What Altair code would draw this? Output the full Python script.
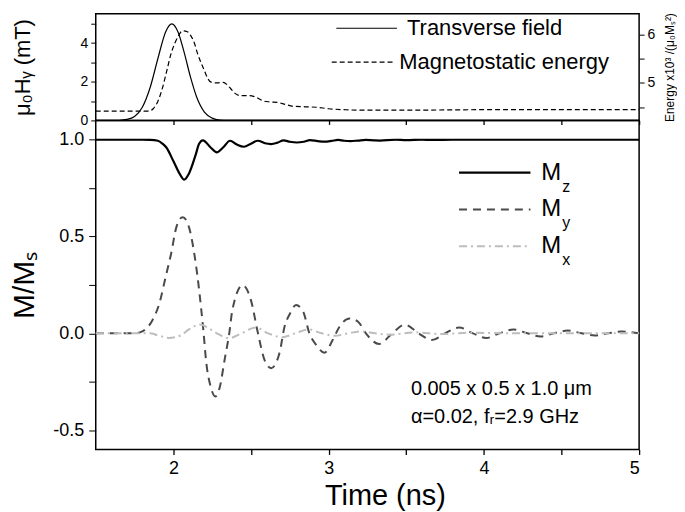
import altair as alt
import pandas as pd

FONT = "Liberation Sans"

# ---------------- data ----------------
field_t = [1.5, 1.65, 1.7, 1.75, 1.8, 1.85, 1.9, 1.95, 1.99, 2.03, 2.07, 2.11, 2.15, 2.2, 2.25, 2.3, 2.35, 2.5, 5.0]
field_h = [0.0, 0.01, 0.05, 0.2, 0.68, 1.69, 3.19, 4.58, 5.0, 4.58, 3.51, 2.25, 1.21, 0.43, 0.12, 0.02, 0.0, 0.0, 0.0]

energy_t = [1.5, 1.84, 1.87, 1.9, 1.93, 1.96, 1.985, 2.01, 2.03, 2.06, 2.09, 2.11, 2.135, 2.156, 2.18, 2.2, 2.22,
            2.24, 2.28, 2.32, 2.35, 2.37, 2.40, 2.43, 2.49, 2.53, 2.58, 2.62, 2.67, 2.72, 2.77, 2.85, 2.92, 3.0,
            3.1, 3.2, 3.5, 4.0, 5.0]
energy_e = [4.42, 4.42, 4.47, 4.62, 4.90, 5.28, 5.6, 5.82, 5.95, 6.07, 6.05, 5.98, 5.82, 5.6, 5.4, 5.25, 5.1,
            5.02, 5.0, 5.01, 4.95, 4.88, 4.78, 4.74, 4.74, 4.71, 4.63, 4.61, 4.60, 4.56, 4.52, 4.51, 4.50, 4.47,
            4.45, 4.44, 4.44, 4.45, 4.45]

mz_t = [1.5, 1.8, 1.85, 1.9, 1.93, 1.955, 2.0, 2.04, 2.07, 2.10, 2.145, 2.165, 2.19, 2.24, 2.28, 2.32, 2.365,
        2.41, 2.455, 2.5, 2.545, 2.59, 2.63, 2.67, 2.71, 2.75, 2.795, 2.84, 2.88, 2.93, 2.975, 3.02, 3.06, 3.1,
        3.14, 3.19, 3.24, 3.29, 3.33, 3.43, 3.5, 3.6, 3.67, 3.8, 5.0]
mz_v = [1.0, 1.0, 0.999, 0.995, 0.98, 0.96, 0.89, 0.825, 0.794, 0.825, 0.926, 0.978, 0.997, 0.96, 0.935, 0.96,
        0.995, 0.975, 0.964, 0.98, 0.995, 0.982, 0.978, 0.985, 0.997, 0.99, 0.986, 0.99, 0.998, 0.993, 0.99,
        0.994, 0.999, 0.995, 0.993, 0.996, 0.999, 0.997, 0.996, 1.0, 0.998, 1.0, 0.999, 1.0, 1.0]

my_t = [1.5, 1.75, 1.8, 1.866, 1.91, 1.95, 1.985, 2.02, 2.06, 2.10, 2.135, 2.156, 2.18, 2.195, 2.21, 2.24, 2.27,
        2.30, 2.33, 2.36, 2.38, 2.446, 2.50, 2.545, 2.587, 2.63, 2.684, 2.716, 2.75, 2.79, 2.837, 2.876, 2.92,
        2.973, 3.026, 3.07, 3.135, 3.19, 3.24, 3.325, 3.41, 3.49, 3.58, 3.665, 3.75, 3.84, 3.93, 4.015, 4.10,
        4.19, 4.28, 4.365, 4.45, 4.54, 4.63, 4.715, 4.80, 4.89, 5.0]
my_v = [0.0, 0.0, 0.01, 0.069, 0.155, 0.29, 0.41, 0.55, 0.60, 0.55, 0.41, 0.29, 0.12, 0.0, -0.137, -0.275, -0.326,
        -0.275, -0.137, 0.0, 0.12, 0.249, 0.17, 0.0, -0.137, -0.18, -0.10, 0.034, 0.10, 0.146, 0.11, 0.0, -0.06,
        -0.10, -0.035, 0.034, 0.077, 0.06, 0.0, -0.055, 0.0, 0.045, 0.0, -0.035, 0.0, 0.03, 0.0, -0.024, 0.0,
        0.02, 0.0, -0.016, 0.0, 0.014, 0.0, -0.011, 0.0, 0.009, 0.0]

mx_t = [1.5, 1.85, 1.9, 1.97, 2.05, 2.1, 2.17, 2.23, 2.28, 2.36, 2.44, 2.53, 2.61, 2.70, 2.785, 2.87, 2.955,
        3.04, 3.125, 3.21, 3.3, 3.39, 3.56, 3.73, 3.9, 4.2, 5.0]
mx_v = [0.0, 0.0, -0.01, -0.024, -0.01, 0.02, 0.045, 0.025, 0.0, -0.025, 0.0, 0.03, 0.0, -0.02, 0.0, 0.02, 0.0,
        -0.013, 0.0, 0.01, 0.0, -0.007, 0.005, -0.004, 0.003, 0.0, 0.0]

top_legend_labels = ["Transverse field", "Magnetostatic energy"]
top_legend_y = [4.77, 3.02]
bottom_legend_labels = ["z", "y", "x"]
bottom_legend_y = [0.83, 0.64, 0.45]
note_lines = ["0.005 x 0.5 x 1.0 \u03bcm", "\u03b1=0.02, f\u1d63=2.9 GHz"]
note_y = [-0.287, -0.433]

X_DOMAIN = [1.5, 5.0]
W = 545
H_TOP = 107
H_BOT = 330

# ---------------- frames ----------------
field_df = pd.DataFrame({"t": field_t, "h": field_h})
energy_df = pd.DataFrame({"t": energy_t, "e": energy_e})
mz_df = pd.DataFrame({"t": mz_t, "v": mz_v})
my_df = pd.DataFrame({"t": my_t, "v": my_v})
mx_df = pd.DataFrame({"t": mx_t, "v": mx_v})

xscale = alt.Scale(domain=X_DOMAIN, nice=False, zero=False)
xticks = [2, 2.5, 3, 3.5, 4, 4.5, 5]

axis_common = dict(domain=False, grid=False, tickColor="black", labelColor="black", titleColor="black",
                   labelFont=FONT, titleFont=FONT, titleFontWeight="normal")

x_top_axis = alt.Axis(values=xticks, labels=False, title=None, tickSize=4, tickWidth=1.3, **axis_common)
x_bot_axis = alt.Axis(values=xticks, title="Time (ns)", tickSize=5, tickWidth=1.3, labelFontSize=18,
                      labelExpr="datum.value % 1 == 0 ? format(datum.value, 'd') : ''",
                      titleFontSize=29, titleX=290, titleY=55, titleBaseline="alphabetic",
                      labelPadding=5, **axis_common)


def xt(field="t"):
    return alt.X(f"{field}:Q", scale=xscale, axis=x_top_axis)


def xb(field="t"):
    return alt.X(f"{field}:Q", scale=xscale, axis=x_bot_axis)


# top-left scale
hscale = alt.Scale(domain=[0, 5.52], nice=False, zero=False)
h_axis = alt.Axis(values=[0, 1, 2, 3, 4, 5], title="\u03bc\u2080H\u1d67 (mT)", tickSize=5, labelFontSize=14,
                  labelExpr="datum.value % 2 == 0 ? format(datum.value, 'd') : ''",
                  titleFontSize=22, titlePadding=46, labelPadding=3, **axis_common)


def yh(field):
    return alt.Y(f"{field}:Q", scale=hscale, axis=h_axis)


escale = alt.Scale(domain=[4.23, 6.42], nice=False, zero=False)
e_axis = alt.Axis(values=[4.5, 5, 5.5, 6], orient="right", title="Energy x10\u00b3 /(\u03bc\u2080M\u209b\u00b2)",
                  tickSize=5, labelFontSize=14, titleAngle=270, titleBaseline="top",
                  labelExpr="datum.value % 1 == 0 ? format(datum.value, 'd') : ''",
                  titleFontSize=12, titlePadding=10, labelPadding=3, **axis_common)

vscale = alt.Scale(domain=[-0.6, 1.1], nice=False, zero=False)
v_axis = alt.Axis(values=[-0.5, -0.25, 0, 0.25, 0.5, 0.75, 1.0], title="M/M\u209b", tickSize=7,
                  labelFontSize=18,
                  labelExpr="(datum.value * 2) % 1 == 0 ? (datum.value < 0 ? '-' + format(-datum.value, '.1f') : format(datum.value, '.1f')) : ''",
                  titleFontSize=30, titlePadding=13.5, labelPadding=5, **axis_common)


def yv(field):
    return alt.Y(f"{field}:Q", scale=vscale, axis=v_axis)


# ---------------- top panel ----------------
field_line = alt.Chart(field_df).mark_line(color="black", strokeWidth=1.2, interpolate="monotone").encode(
    x=xt(), y=yh("h"))

top_leg_lines = pd.DataFrame({"x1": [3.05, 3.02], "x2": [3.44, 3.43], "y": top_legend_y, "k": ["a", "b"]})
leg_solid = alt.Chart(top_leg_lines[top_leg_lines.k == "a"]).mark_rule(color="black", strokeWidth=1.2).encode(
    x=xt("x1"), x2="x2:Q", y=yh("y"))
leg_dash = alt.Chart(top_leg_lines[top_leg_lines.k == "b"]).mark_rule(color="black", strokeWidth=1.2,
                                                                        strokeDash=[5, 3]).encode(
    x=xt("x1"), x2="x2:Q", y=yh("y"))
top_leg_text_df = pd.DataFrame({"x": [3.505, 3.455], "y": top_legend_y, "label": top_legend_labels})
top_leg_text = alt.Chart(top_leg_text_df).mark_text(align="left", baseline="middle", font=FONT, fontSize=22,
                                                    color="black").encode(
    x=xt("x"), y=yh("y"), text="label:N")

left_group = alt.layer(field_line, leg_solid, leg_dash, top_leg_text)

energy_line = alt.Chart(energy_df).mark_line(color="black", strokeWidth=1.2, strokeDash=[5, 3],
                                             interpolate="monotone").encode(
    x=xt(), y=alt.Y("e:Q", scale=escale, axis=e_axis))

top = alt.layer(left_group, energy_line).resolve_scale(y="independent").properties(width=W, height=H_TOP)

# ---------------- bottom panel ----------------
mx_line = alt.Chart(mx_df).mark_line(color="#bdbdbd", strokeWidth=2, strokeDash=[8, 4, 2, 4],
                                     interpolate="monotone").encode(x=xb(), y=yv("v"))
my_line = alt.Chart(my_df).mark_line(color="#4a4a4a", strokeWidth=2, strokeDash=[8, 6],
                                     interpolate="monotone").encode(x=xb(), y=yv("v"))
mz_line = alt.Chart(mz_df).mark_line(color="black", strokeWidth=2.2, interpolate="monotone").encode(
    x=xb(), y=yv("v"))

bl = pd.DataFrame({"x1": [3.84] * 3, "x2": [4.30] * 3, "y": bottom_legend_y})
leg_z = alt.Chart(bl.iloc[[0]]).mark_rule(color="black", strokeWidth=2.2).encode(x=xb("x1"), x2="x2:Q", y=yv("y"))
leg_y = alt.Chart(bl.iloc[[1]]).mark_rule(color="#4a4a4a", strokeWidth=2, strokeDash=[8, 6]).encode(
    x=xb("x1"), x2="x2:Q", y=yv("y"))
leg_x = alt.Chart(bl.iloc[[2]]).mark_rule(color="#bdbdbd", strokeWidth=2, strokeDash=[8, 4, 2, 4]).encode(
    x=xb("x1"), x2="x2:Q", y=yv("y"))

mtext_df = pd.DataFrame({"x": [4.37] * 3, "y": bottom_legend_y, "m": ["M"] * 3, "sub": bottom_legend_labels})
m_text = alt.Chart(mtext_df).mark_text(align="left", baseline="middle", font=FONT, fontSize=24,
                                       color="black").encode(x=xb("x"), y=yv("y"), text="m:N")
sub_text = alt.Chart(mtext_df).mark_text(align="left", baseline="middle", font=FONT, fontSize=16, dx=21, dy=14,
                                         color="black").encode(x=xb("x"), y=yv("y"), text="sub:N")

note_df = pd.DataFrame({"x": [3.53, 3.53], "y": note_y, "label": note_lines})
notes = alt.Chart(note_df).mark_text(align="left", baseline="middle", font=FONT, fontSize=20,
                                     color="black").encode(x=xb("x"), y=yv("y"), text="label:N")

bottom = alt.layer(my_line, mx_line, mz_line, leg_z, leg_y, leg_x, m_text, sub_text, notes).properties(
    width=W, height=H_BOT)

chart = alt.vconcat(top, bottom, spacing=0, bounds="flush").resolve_scale(y="independent").configure_view(
    stroke="black", strokeWidth=1.5).properties(
    padding={"left": 0, "top": 3, "right": 0, "bottom": 0}, background="white")

chart.save("out.html", embed_options={"renderer": "svg", "actions": False})
